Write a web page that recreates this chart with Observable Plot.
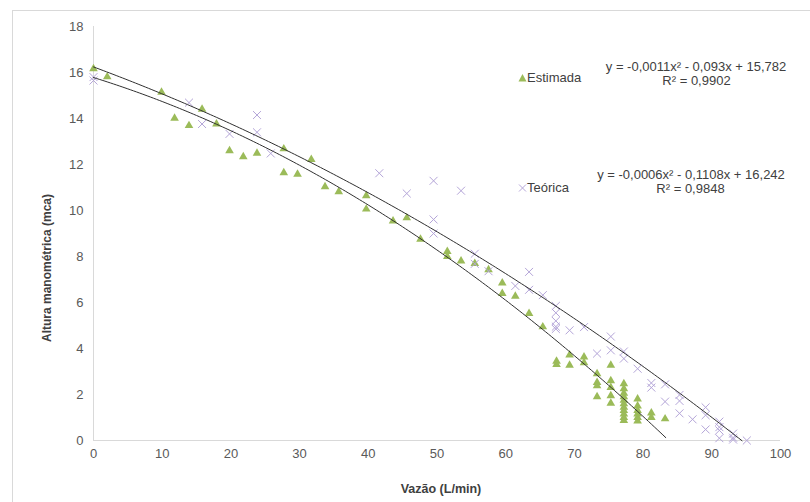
<!DOCTYPE html>
<html><head><meta charset="utf-8">
<script src="https://cdn.jsdelivr.net/npm/d3@7"></script>
<script src="https://cdn.jsdelivr.net/npm/@observablehq/plot@0.6"></script>
<style>
body{margin:0;background:#fff;font-family:"Liberation Sans",Arial,sans-serif;}
#wrap{position:relative;width:810px;height:502px;overflow:hidden;background:#fff;}
#frame{position:absolute;left:12px;top:10px;width:820px;height:520px;border-top:1px solid #d9d9d9;border-left:1px solid #d9d9d9;pointer-events:none;}
#chart{position:absolute;left:0;top:0;}
.lab{position:absolute;font-size:13px;color:#404040;white-space:nowrap;line-height:13px;transform:translate(-50%,-50%);text-align:center;}
.leg{position:absolute;font-size:13px;color:#404040;white-space:nowrap;line-height:13px;transform:translateY(-50%);}
.title{position:absolute;font-weight:bold;color:#404040;white-space:nowrap;transform:translate(-50%,-50%);}
</style></head><body>
<div id="wrap"><div id="chart"></div><div id="frame"></div></div>
<script>
// Estimada (green triangles)
const estX = [0,2,9.9,11.8,13.9,15.8,17.9,19.8,21.8,23.8,27.7,27.7,29.7,31.7,33.7,35.7,39.7,39.7,43.6,45.6,47.6,51.5,51.5,53.5,55.5,57.5,59.5,59.5,61.4,63.4,65.4,67.4,67.4,69.3,69.3,71.4,71.4,
  73.3,73.3,73.3,73.3, 75.3,75.3,75.3,75.3,75.3,
  77.2,77.2,77.2,77.2,77.2,77.2,77.2,77.2,77.2,77.2,77.2,
  79.2,79.2,79.2,79.2,79.2,79.2, 81.2,81.2, 83.2];
const estY = [16.16,15.81,15.14,14.01,13.69,14.40,13.76,12.6,12.34,12.49,12.68,11.64,11.58,12.22,11.03,10.82,10.64,10.06,9.54,9.68,8.75,8.22,8.0,7.80,7.70,7.42,6.85,6.39,6.27,5.52,4.94,3.45,3.3,3.72,3.27,3.63,3.38,
  2.9,2.52,2.38,1.9, 3.27,2.6,2.3,1.95,1.62,
  2.47,2.25,2.05,1.9,1.75,1.6,1.45,1.3,1.15,1.0,0.87,
  1.8,1.5,1.3,1.15,1.0,0.85, 1.2,1.0, 0.94];
// Teórica (purple crosses)
const teoX = [0,0,13.9,15.8,19.8,23.8,23.8,25.8,41.6,45.6,49.5,49.5,49.5,53.5,55.5,55.5,57.5,61.4,63.4,63.4,65.4,
  67.3,67.3,67.3,67.3,67.3,69.3,71.4,73.3,75.3,75.3,77.2,77.2,79.2,81.2,81.2,83.2,83.2,85.3,85.3,85.3,87.2,
  89.1,89.1,89.1,91.1,91.1,91.1,91.1,93.1,93.1,93.1,95.1];
const teoY = [15.8,15.65,14.69,13.76,13.33,14.15,13.4,12.48,11.62,10.74,11.29,9.61,9.0,10.86,8.12,7.68,7.36,6.72,7.33,6.55,6.32,
  5.85,5.55,5.2,4.95,4.85,4.79,4.93,3.78,4.52,3.92,3.87,3.56,3.12,2.5,2.3,2.44,1.69,1.98,1.72,1.18,0.92,
  1.44,1.1,0.48,0.82,0.58,0.44,0.1,0.3,0.12,0.04,0.0];
// Trend line coefficients [a, b, c] (y = a x^2 + b x + c) and x extents
const estCoef = [-0.00114, -0.093, 15.782];
const teoCoef = [-0.00065, -0.1108, 16.242];
const estRange = [0, 83.3];
const teoRange = [0, 94.4];
const xTicks = [0,10,20,30,40,50,60,70,80,90,100];
const yTicks = [0,2,4,6,8,10,12,14,16,18];
// Text
const estLabel = "Estimada", teoLabel = "Teórica";
const estEq = ["y = -0,0011x² - 0,093x + 15,782", "R² = 0,9902"];
const teoEq = ["y = -0,0006x² - 0,1108x + 16,242", "R² = 0,9848"];

const est = estX.map((x,i)=>({x, y: estY[i]}));
const teo = teoX.map((x,i)=>({x, y: teoY[i]}));
const curve = (c, r) => d3.range(r[0], r[1] + 1e-9, (r[1]-r[0])/200).map(x => ({x, y: c[0]*x*x + c[1]*x + c[2]}));
const estLine = curve(estCoef, estRange);
const teoLine = curve(teoCoef, teoRange);

const plot = Plot.plot({
  width: 810, height: 502,
  marginLeft: 93, marginRight: 30, marginTop: 26, marginBottom: 62,
  style: {fontFamily: '"Liberation Sans", Arial, sans-serif', fontSize: "13px", background: "transparent"},
  x: {domain: [0,100]},
  y: {domain: [0,18]},
  marks: [
    Plot.ruleY([0], {stroke: "#d9d9d9", strokeWidth: 1}),
    Plot.ruleX([0], {stroke: "#d9d9d9", strokeWidth: 1}),
    Plot.axisX({ticks: xTicks, tickSize: 0, tickPadding: 8, label: null, fill: "#595959", tickFormat: d => d}),
    Plot.axisY({ticks: yTicks, tickSize: 0, tickPadding: 10, label: null, fill: "#595959", tickFormat: d => d}),
    Plot.dot(est, {x: "x", y: "y", symbol: "triangle", r: 3.2, fill: "#9bbb59", stroke: "none"}),
    Plot.dot(teo, {x: "x", y: "y", symbol: "times", r: 3.7, stroke: "#b4a5d8", strokeWidth: 1}),
    Plot.line(estLine, {x: "x", y: "y", stroke: "#303030", strokeWidth: 1}),
    Plot.line(teoLine, {x: "x", y: "y", stroke: "#303030", strokeWidth: 1})
  ]
});
document.getElementById("chart").appendChild(plot);

const wrap = document.getElementById("wrap");
function add(cls, html, left, top, extra) {
  const d = document.createElement("div");
  d.className = cls; d.innerHTML = html;
  d.style.left = left + "px"; d.style.top = top + "px";
  if (extra) Object.assign(d.style, extra);
  wrap.appendChild(d);
  return d;
}
// axis titles
add("title", "Vazão (L/min)", 441, 489, {fontSize: "12.5px"});
add("title", "Altura manométrica (mca)", 46.5, 267.5, {fontSize: "12px", transform: "translate(-50%,-50%) rotate(-90deg)"});
// legend entries
add("leg", '<svg width="9" height="9" style="vertical-align:middle"><path d="M4.5,0.5 L8.5,8 L0.5,8 Z" fill="#9bbb59"/></svg>' + estLabel, 518, 77);
add("leg", '<svg width="9" height="9" style="vertical-align:middle"><path d="M1,1 L8,8 M8,1 L1,8" stroke="#b4a5d8" stroke-width="1" fill="none"/></svg>' + teoLabel, 518, 187);
// equations
add("lab", estEq[0], 696, 66);
add("lab", estEq[1], 696.5, 79.5);
add("lab", teoEq[0], 691, 174);
add("lab", teoEq[1], 690.5, 187.5);
</script>
</body></html>
